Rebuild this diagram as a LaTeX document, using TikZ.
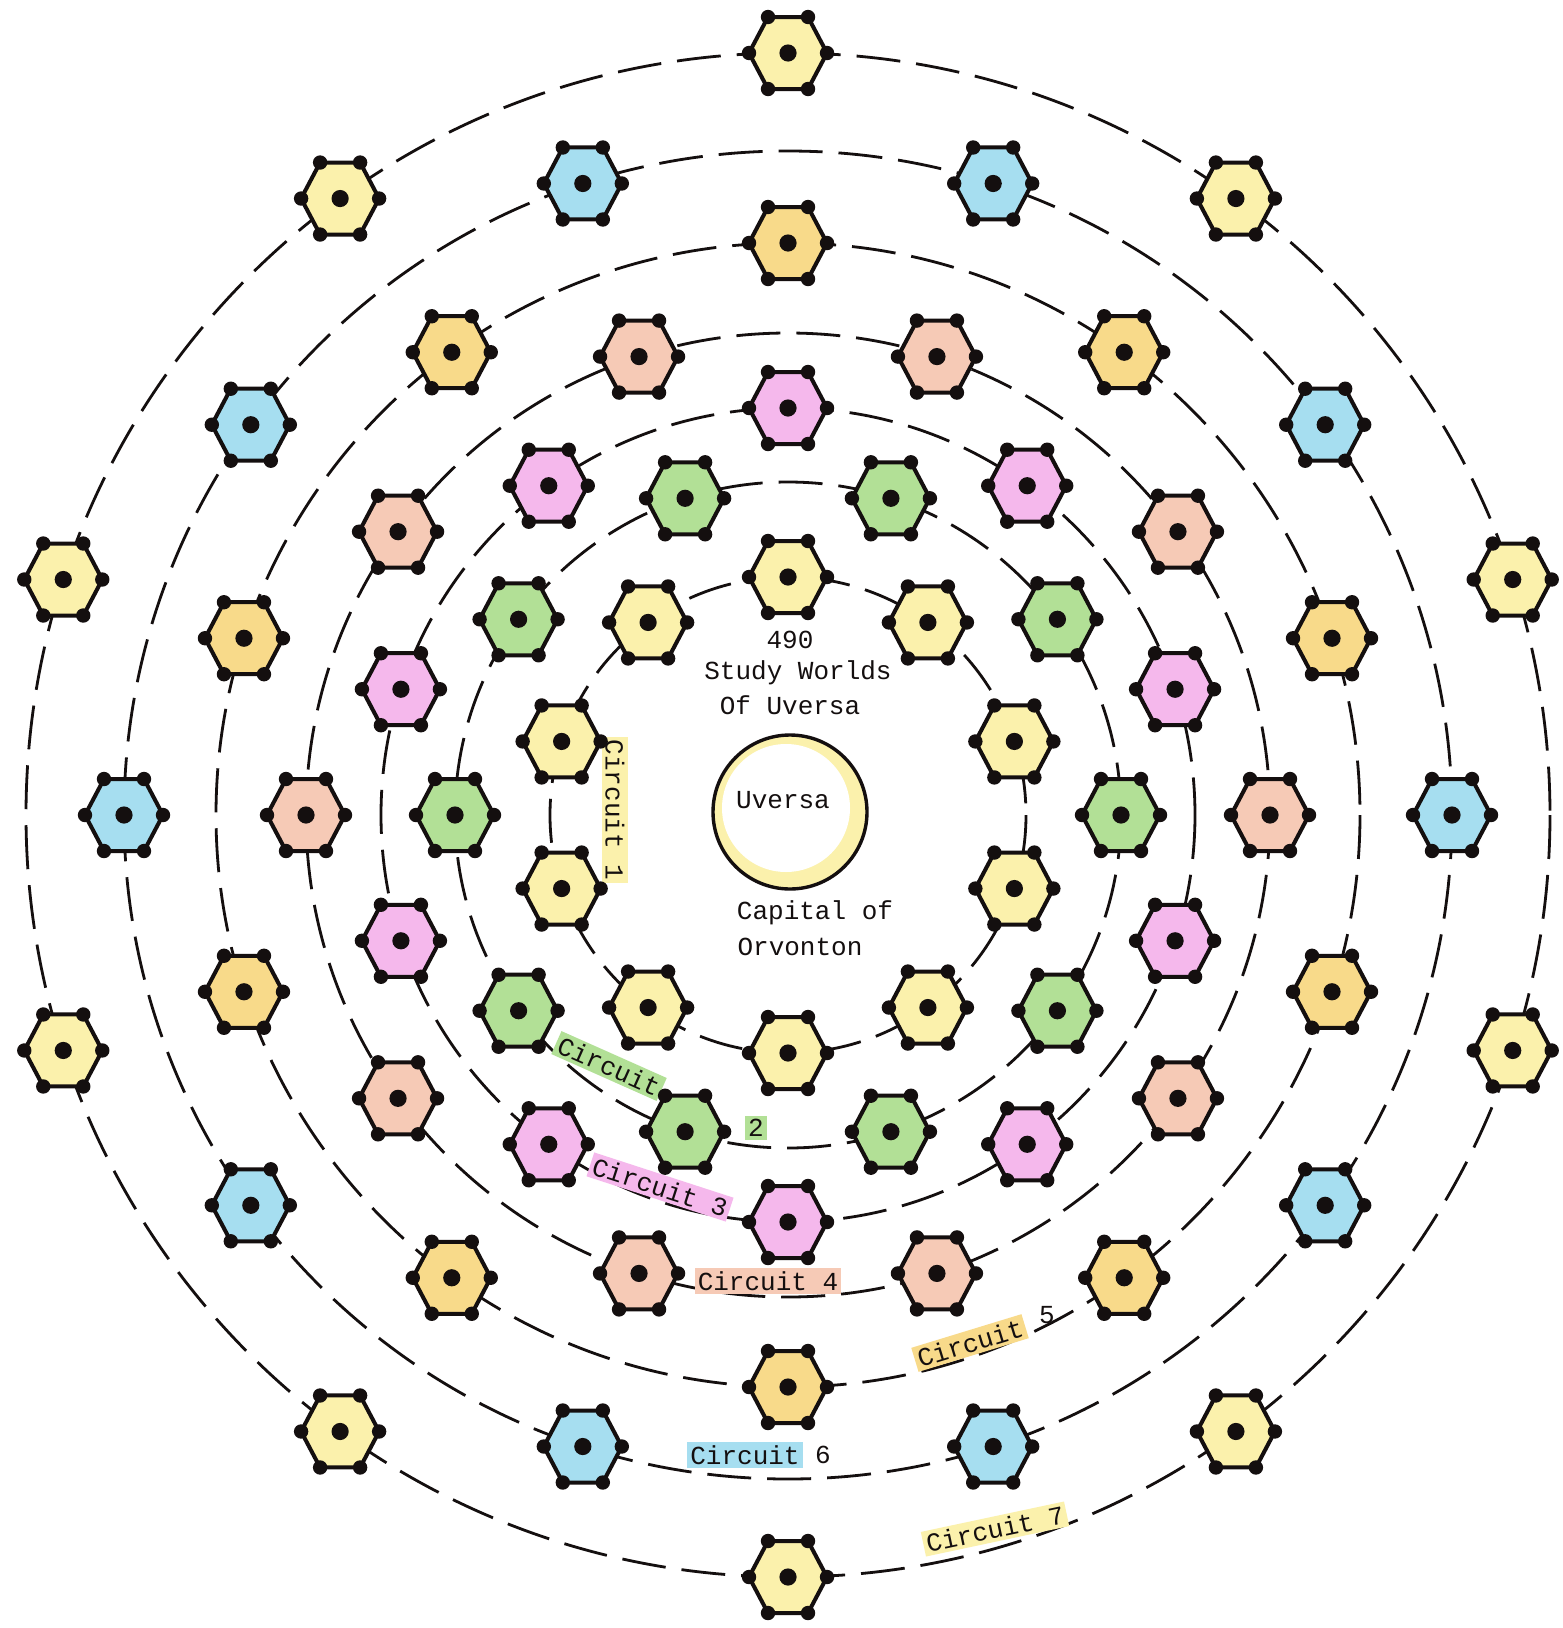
\documentclass[tikz,border=0pt]{standalone}
\usepackage{fontspec}
\setmainfont{Liberation Mono}
\usetikzlibrary{calc}
\definecolor{hyel}{RGB}{251,241,172}
\definecolor{hgrn}{RGB}{178,224,150}
\definecolor{hpnk}{RGB}{245,184,236}
\definecolor{hsal}{RGB}{246,202,182}
\definecolor{hgld}{RGB}{248,218,138}
\definecolor{hblu}{RGB}{166,222,240}
\definecolor{ink}{RGB}{20,15,15}
\tikzset{
  ring/.style={draw=ink, line width=1.4pt, dash pattern=on 22pt off 8pt},
  hexline/.style={draw=ink, line width=2pt, line join=round},
  lab/.style={font=\fontsize{13pt}{15pt}\selectfont, text=ink, inner sep=1.5pt},
  pics/hexa/.style={code={
    \path[hexline, pic actions] (-39,0) -- (-20,-36) -- (20,-36) -- (39,0) -- (20,36) -- (-20,36) -- cycle;
    \foreach \q in {{-39,0},{-20,-36},{20,-36},{39,0},{20,36},{-20,36}}
      \fill[ink] (\q) circle[radius=3.6pt];
    \fill[ink] (0,0) circle[radius=4.3pt];
    \coordinate (-c) at (0,0);
  }}
}
\begin{document}
\begin{tikzpicture}[x=0.5pt,y=-0.5pt]
\useasboundingbox (0,0) rectangle (1563,1628);
\fill[white] (0,0) rectangle (1563,1628);
\coordinate (C) at (788,815);

% dashed circuits
\foreach \r in {238,333,407,482,572,664,762}
  \draw[ring] (C) circle[radius=\r];

% central world
\fill[hyel] (790,812) circle[radius=77];
\fill[white] (786,808) circle[radius=64];
\draw[ink, line width=1.7pt] (790,812) circle[radius=77];
\node[lab] (uv) at (783,800) {Uversa};
\node[lab] (t1) at (790,640) {490};
\node[lab] (t2) at (798,673) {Study Worlds};
\node[lab] (t3) at (790,705) {Of Uversa};
\node[lab] (t4) at (815,913) {Capital of};
\node[lab] (t5) at (800,947) {Orvonton};

% circuit labels
\node[lab, fill=hyel, rotate=-90] (c1) at (615,810) {Circuit 1};
\node[lab, fill=hgrn, rotate=-24] (c2) at (609,1066) {Circuit};
\node[lab, fill=hgrn] (c2n) at (756,1128) {2};
\node[lab, fill=hpnk, rotate=-18] (c3) at (660,1187) {Circuit 3};
\node[lab, fill=hsal] (c4) at (768,1281) {Circuit 4};
\node[lab, fill=hgld, rotate=17] (c5) at (970,1343) {Circuit};
\node[lab] (c5n) at (1047,1315) {5};
\node[lab, fill=hblu] (c6) at (745,1455) {Circuit};
\node[lab] (c6n) at (823,1455) {6};
\node[lab, fill=hyel, rotate=12] (c7) at (995,1529) {Circuit 7};

% study worlds
\foreach \r/\a/\col/\n in {238/90/hyel/1, 333/0/hgrn/2, 407/90/hpnk/3, 482/0/hsal/4, 572/90/hgld/5, 664/0/hblu/6, 762/90/hyel/7}
  \foreach \k in {0,...,9}
    \pic[fill=\col] (w\n x\k) at ($(C)+(\a+36*\k:\r)$) {hexa};
\end{tikzpicture}
\end{document}
